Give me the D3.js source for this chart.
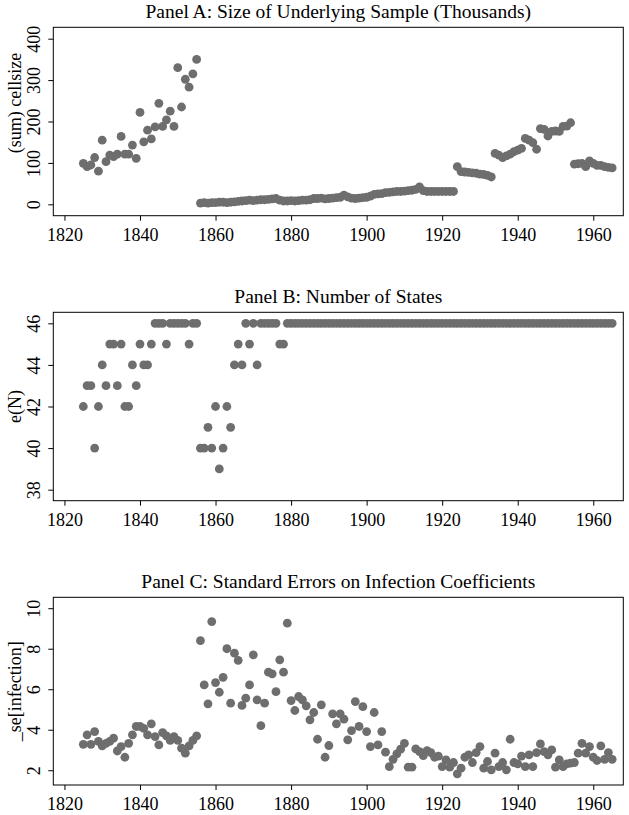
<!DOCTYPE html>
<html>
<head>
<meta charset="utf-8">
<script src="https://cdn.jsdelivr.net/npm/d3@7"></script>
<style>
  html, body { margin: 0; padding: 0; background: #fff; }
  svg text { font-family: "Liberation Serif", "Times New Roman", serif; fill: #000; }
</style>
</head>
<body>
<svg id="chart" width="629" height="815"></svg>
<script>
// ---------- DATA ----------
const years = d3.range(1825, 1966);

// Panel A: (sum) cellsize, thousands
const cellsize = [
  99, 91, 95, 113, 80, 155, 103, 119, 115, 121,            // 1825-1834
  164, 121, 121, 143, 111, 222, 151, 179, 158, 187,        // 1835-1844
  244, 188, 204, 225, 188, 330, 235, 302, 283, 315,        // 1845-1854
  350, 3, 4, 3, 4, 4, 5, 5, 4, 5,                          // 1855-1864
  6, 7, 8, 9, 10, 9, 10, 11, 11, 12,                       // 1865-1874
  13, 14, 10, 8, 8, 9, 8, 9, 10, 10,                       // 1875-1884
  11, 14, 14, 15, 13, 14, 15, 16, 17, 22,                  // 1885-1894
  18, 15, 14, 15, 16, 17, 20, 24, 25, 26,                  // 1895-1904
  28, 29, 30, 31, 31, 32, 33, 34, 36, 42,                  // 1905-1914
  33, 31, 31, 31, 31, 31, 31, 31, 31, 91,                  // 1915-1924
  79, 78, 77, 76, 75, 73, 72, 70, 66, 123,                 // 1925-1934
  119, 113, 117, 121, 127, 131, 135, 159, 155, 149,        // 1935-1944
  133, 183, 181, 165, 176, 177, 176, 188, 189, 197,        // 1945-1954
  97, 98, 99, 91, 105, 99, 94, 94, 91, 89,                 // 1955-1964
  88                                                       // 1965
];

// Panel B: e(N), number of states
const nStates = [
  42, 43, 43, 40, 42, 44, 43, 45, 45, 43,                  // 1825-1834
  45, 42, 42, 44, 43, 45, 44, 44, 45, 46,                  // 1835-1844
  46, 46, 45, 46, 46, 46, 46, 46, 45, 46,                  // 1845-1854
  46, 40, 40, 41, 40, 42, 39, 40, 42, 41,                  // 1855-1864
  44, 45, 44, 46, 45, 46, 44, 46, 46, 46,                  // 1865-1874
  46, 46, 45, 45, 46, 46, 46, 46, 46, 46,                  // 1875-1884
  46, 46, 46, 46, 46, 46, 46, 46, 46, 46,                  // 1885-1894
  46, 46, 46, 46, 46, 46, 46, 46, 46, 46,                  // 1895-1904
  46, 46, 46, 46, 46, 46, 46, 46, 46, 46,                  // 1905-1914
  46, 46, 46, 46, 46, 46, 46, 46, 46, 46,                  // 1915-1924
  46, 46, 46, 46, 46, 46, 46, 46, 46, 46,                  // 1925-1934
  46, 46, 46, 46, 46, 46, 46, 46, 46, 46,                  // 1935-1944
  46, 46, 46, 46, 46, 46, 46, 46, 46, 46,                  // 1945-1954
  46, 46, 46, 46, 46, 46, 46, 46, 46, 46,                  // 1955-1964
  46                                                       // 1965
];

// Panel C: _se[infection]
const seInfection = [
  3.28, 3.75, 3.28, 3.91, 3.42, 3.20, 3.33, 3.42, 3.58, 2.95, // 1825-1834
  3.17, 2.64, 3.33, 3.75, 4.16, 4.16, 4.07, 3.75, 4.29, 3.66, // 1835-1844
  3.25, 3.86, 3.70, 3.47, 3.66, 3.47, 3.09, 2.84, 3.20, 3.47, // 1845-1854
  3.70, 8.40, 6.21, 5.28, 9.34, 6.33, 5.85, 6.59, 8.00, 5.31, // 1855-1864
  7.78, 7.42, 5.20, 5.56, 6.21, 7.70, 5.47, 4.20, 5.31, 6.84, // 1865-1874
  6.76, 5.88, 7.45, 6.84, 9.26, 5.44, 4.95, 5.64, 5.47, 5.18, // 1875-1884
  4.49, 4.85, 3.53, 5.23, 2.64, 3.22, 4.78, 4.29, 4.78, 4.52, // 1885-1894
  3.50, 3.96, 5.39, 4.16, 5.14, 3.91, 3.17, 4.85, 3.25, 3.91, // 1895-1904
  2.89, 2.18, 2.54, 2.81, 3.04, 3.33, 2.15, 2.15, 3.05, 2.92, // 1905-1914
  2.72, 2.97, 2.87, 2.64, 2.70, 2.18, 2.51, 2.15, 2.38, 1.82, // 1915-1924
  2.10, 2.64, 2.76, 2.38, 2.87, 3.17, 2.10, 2.43, 2.02, 2.84, // 1925-1934
  2.18, 2.38, 2.02, 3.53, 2.38, 2.31, 2.70, 2.18, 2.76, 2.18, // 1935-1944
  2.87, 3.30, 2.92, 2.76, 3.00, 2.15, 2.51, 2.18, 2.31, 2.35, // 1945-1954
  2.38, 2.84, 3.33, 2.84, 3.17, 2.64, 2.48, 3.20, 2.54, 2.87, // 1955-1964
  2.54                                                          // 1965
];

const xTicks = [1820, 1840, 1860, 1880, 1900, 1920, 1940, 1960];
const panelTitles = [
  "Panel A: Size of Underlying Sample (Thousands)",
  "Panel B: Number of States",
  "Panel C: Standard Errors on Infection Coefficients"
];
const yLabels = ["(sum) cellsize", "e(N)", "_se[infection]"];
const yTicksA = [0, 100, 200, 300, 400];
const yTicksB = [38, 40, 42, 44, 46];
const yTicksC = [2, 4, 6, 8, 10];

const panels = [
  { values: cellsize, yTicks: yTicksA, yDomain: [-27.5, 427.5], labelCenter: 103 },
  { values: nStates, yTicks: yTicksB, yDomain: [37.47, 46.53], labelCenter: null },
  { values: seInfection, yTicks: yTicksC, yDomain: [1.27, 10.54], labelCenter: null }
];

// ---------- LAYOUT ----------
const left = 53.3, right = 623.3;
const boxes = [ {top: 27.3, bottom: 215.7}, {top: 312.3, bottom: 500.7}, {top: 597.3, bottom: 785} ];
const markColor = "#6e6e6e";
const fs = 18, fsTitle = 19.5;

const svg = d3.select("#chart");
const x = d3.scaleLinear().domain([1817.05, 1967.95]).range([left, right]);

panels.forEach((p, i) => {
  const b = boxes[i];
  const y = d3.scaleLinear().domain(p.yDomain).range([b.bottom, b.top]);
  const g = svg.append("g");

  // points
  g.append("g").selectAll("circle")
    .data(years.map((yr, k) => ({ yr, v: p.values[k] })))
    .join("circle")
    .attr("cx", d => x(d.yr))
    .attr("cy", d => y(d.v))
    .attr("r", 4.4)
    .attr("fill", markColor);

  // box
  g.append("rect")
    .attr("x", left).attr("y", b.top)
    .attr("width", right - left).attr("height", b.bottom - b.top)
    .attr("fill", "none").attr("stroke", "#000").attr("stroke-width", 1);

  // x axis
  const xa = g.append("g").attr("transform", `translate(0,${b.bottom})`)
    .call(d3.axisBottom(x).tickValues(xTicks).tickFormat(d3.format("d")).tickSize(5).tickPadding(7.5));
  xa.select(".domain").remove();
  xa.selectAll("line").attr("stroke", "#000");
  xa.selectAll("text").attr("font-size", fs).attr("font-family", "Liberation Serif").attr("dy", "0.71em");

  // y axis
  const ya = g.append("g").attr("transform", `translate(${left},0)`)
    .call(d3.axisLeft(y).tickValues(p.yTicks).tickFormat(d3.format("d")).tickSize(5));
  ya.select(".domain").remove();
  ya.selectAll("line").attr("stroke", "#000");
  ya.selectAll("text")
    .attr("font-size", fs).attr("font-family", "Liberation Serif")
    .attr("x", null).attr("dy", null)
    .attr("text-anchor", "middle")
    .attr("transform", `translate(-13.5,0) rotate(-90)`);

  // y label
  const cy = p.labelCenter !== null ? p.labelCenter : (b.top + b.bottom) / 2;
  g.append("text")
    .attr("transform", `translate(21,${cy}) rotate(-90)`)
    .attr("text-anchor", "middle")
    .attr("font-size", fs)
    .text(yLabels[i]);

  // title
  g.append("text")
    .attr("x", (left + right) / 2).attr("y", b.top - 9)
    .attr("text-anchor", "middle")
    .attr("font-size", fsTitle)
    .text(panelTitles[i]);
});
</script>
</body>
</html>
